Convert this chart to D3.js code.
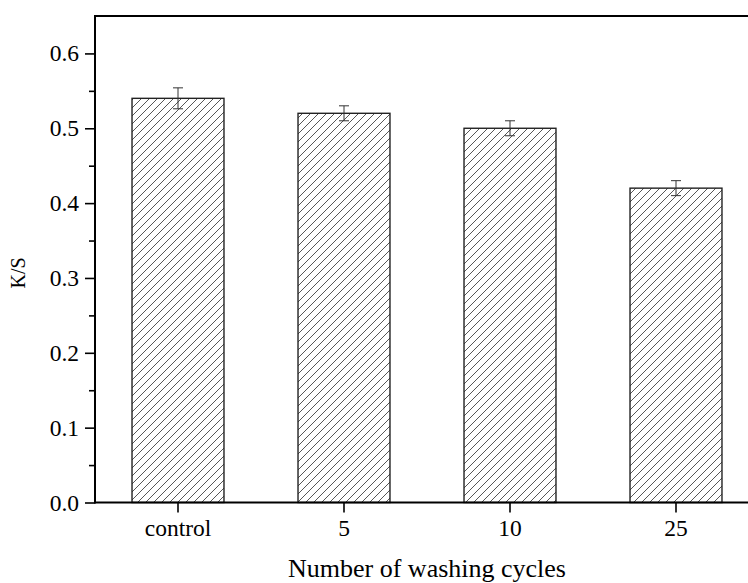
<!DOCTYPE html>
<html>
<head>
<meta charset="utf-8">
<script src="https://cdn.jsdelivr.net/npm/d3@7"></script>
<style>
  html, body { margin: 0; padding: 0; background: #fff; }
  svg { display: block; }
</style>
</head>
<body>
<svg id="chart" width="748" height="583"></svg>
<script>
// K/S colour strength after repeated washing
const categories = ["control", "5", "10", "25"];
const ksValues = [0.54, 0.52, 0.50, 0.42];
const ksErrors = [0.014, 0.010, 0.010, 0.010];
const yTicks = [0.0, 0.1, 0.2, 0.3, 0.4, 0.5, 0.6];
const yMinorTicks = [0.05, 0.15, 0.25, 0.35, 0.45, 0.55];

const serifFont = "'Liberation Serif', 'Times New Roman', serif";

const svg = d3.select("#chart");
const plotLeft = 95, plotRight = 759, plotTop = 16, plotBottom = 502.5;

const x = d3.scaleBand()
  .domain(categories)
  .range([plotLeft, plotRight])
  .paddingInner(0.446)
  .paddingOuter(0.223);

const y = d3.scaleLinear().domain([0, 0.65]).range([plotBottom, plotTop]);

// diagonal hatch fill
const defs = svg.append("defs");
const pat = defs.append("pattern")
  .attr("id", "hatch")
  .attr("patternUnits", "userSpaceOnUse")
  .attr("width", 8).attr("height", 8);
pat.append("rect").attr("width", 8).attr("height", 8).attr("fill", "#fff");
pat.append("path")
  .attr("d", "M-2,2 L2,-2 M0,8 L8,0 M6,10 L10,6")
  .attr("stroke", "#444")
  .attr("stroke-width", 0.9);

// bars
svg.append("g").selectAll("rect")
  .data(categories)
  .join("rect")
  .attr("x", d => x(d))
  .attr("y", (d, i) => y(ksValues[i]))
  .attr("width", x.bandwidth())
  .attr("height", (d, i) => y(0) - y(ksValues[i]))
  .attr("fill", "url(#hatch)")
  .attr("stroke", "#222")
  .attr("stroke-width", 1.4);

// error bars
const eb = svg.append("g").attr("stroke", "#333").attr("stroke-width", 1);
categories.forEach((c, i) => {
  const cx = x(c) + x.bandwidth() / 2;
  const hi = y(ksValues[i] + ksErrors[i]);
  const lo = y(ksValues[i] - ksErrors[i]);
  eb.append("line").attr("x1", cx).attr("x2", cx).attr("y1", hi).attr("y2", lo);
  eb.append("line").attr("x1", cx - 5).attr("x2", cx + 5).attr("y1", hi).attr("y2", hi);
  eb.append("line").attr("x1", cx - 5).attr("x2", cx + 5).attr("y1", lo).attr("y2", lo);
});

// y axis with minor ticks
const yAxis = d3.axisLeft(y).tickValues(yTicks).tickFormat(d3.format(".1f"))
  .tickSize(10).tickPadding(6);
const gy = svg.append("g").attr("transform", `translate(${plotLeft},0)`).call(yAxis);
gy.attr("font-family", serifFont).attr("font-size", 23.5);
gy.select(".domain").remove();
gy.selectAll(".tick line").attr("stroke", "#000").attr("stroke-width", 1.6);
gy.selectAll(".tick text").attr("fill", "#000");
svg.append("g").attr("transform", `translate(${plotLeft},0)`)
  .call(d3.axisLeft(y).tickValues(yMinorTicks).tickSize(6).tickFormat(""))
  .call(g => g.select(".domain").remove())
  .selectAll(".tick line").attr("stroke", "#000").attr("stroke-width", 1.6);

// x axis
const xAxis = d3.axisBottom(x).tickSize(10).tickPadding(7);
const gx = svg.append("g").attr("transform", `translate(0,${plotBottom})`).call(xAxis);
gx.attr("font-family", serifFont).attr("font-size", 23.5);
gx.select(".domain").remove();
gx.selectAll(".tick line").attr("stroke", "#000").attr("stroke-width", 1.6);
gx.selectAll(".tick text").attr("fill", "#000");

// frame lines
svg.append("line").attr("x1", plotLeft).attr("x2", 748).attr("y1", plotTop).attr("y2", plotTop)
  .attr("stroke", "#000").attr("stroke-width", 2);
svg.append("line").attr("x1", plotLeft).attr("x2", 748).attr("y1", plotBottom).attr("y2", plotBottom)
  .attr("stroke", "#000").attr("stroke-width", 2);
svg.append("line").attr("x1", plotLeft).attr("x2", plotLeft).attr("y1", plotTop - 1).attr("y2", plotBottom + 1)
  .attr("stroke", "#000").attr("stroke-width", 2);

// axis titles
svg.append("text")
  .attr("x", (plotLeft + plotRight) / 2).attr("y", 577)
  .attr("text-anchor", "middle")
  .attr("font-family", serifFont).attr("font-size", 26)
  .text("Number of washing cycles");
svg.append("text")
  .attr("transform", "translate(25,273) rotate(-90)")
  .attr("text-anchor", "middle")
  .attr("font-family", serifFont).attr("font-size", 20)
  .text("K/S");
</script>
</body>
</html>
